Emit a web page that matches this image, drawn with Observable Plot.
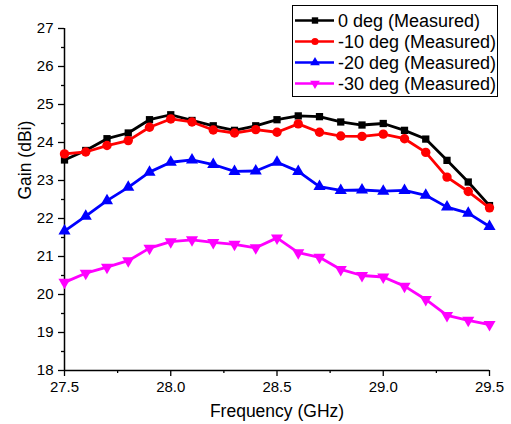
<!DOCTYPE html>
<html>
<head>
<meta charset="utf-8">
<script src="https://cdn.jsdelivr.net/npm/d3@7"></script>
<script src="https://cdn.jsdelivr.net/npm/@observablehq/plot@0.6"></script>
<style>
  html, body { margin: 0; padding: 0; background: #fff; }
  #wrap { position: relative; width: 511px; height: 424px; font-family: "Liberation Sans", Arial, sans-serif; }
  #legend { position: absolute; left: 292px; top: 5px; }
</style>
</head>
<body>
<div id="wrap"></div>
<script>
const freq = [27.5, 27.6, 27.7, 27.8, 27.9, 28.0, 28.1, 28.2, 28.3, 28.4, 28.5, 28.6, 28.7, 28.8, 28.9, 29.0, 29.1, 29.2, 29.3, 29.4, 29.5];
const gain0 = [23.54, 23.79, 24.10, 24.25, 24.60, 24.73, 24.58, 24.44, 24.32, 24.44, 24.60, 24.70, 24.68, 24.54, 24.46, 24.50, 24.32, 24.09, 23.53, 22.96, 22.34];
const gain10 = [23.70, 23.75, 23.92, 24.05, 24.40, 24.62, 24.54, 24.33, 24.25, 24.34, 24.27, 24.49, 24.27, 24.17, 24.16, 24.22, 24.10, 23.74, 23.09, 22.71, 22.28];
const gain20 = [21.67, 22.06, 22.47, 22.82, 23.22, 23.48, 23.54, 23.42, 23.24, 23.25, 23.48, 23.24, 22.84, 22.74, 22.75, 22.72, 22.74, 22.61, 22.30, 22.14, 21.79];
const gain30 = [20.32, 20.56, 20.72, 20.89, 21.22, 21.39, 21.44, 21.37, 21.32, 21.23, 21.49, 21.10, 20.98, 20.66, 20.50, 20.46, 20.22, 19.87, 19.45, 19.32, 19.21];

const seriesNames = ["0 deg (Measured)", "-10 deg (Measured)", "-20 deg (Measured)", "-30 deg (Measured)"];
const seriesColors = ["#000000", "#ff0000", "#0000ff", "#ff00ff"];
const seriesSymbols = ["square", "circle", "triangle", "triangle"];
const seriesRotate = [0, 0, 0, 180];
const seriesR = [4.1, 4.7, 4.5, 4.5];

const xMajorTicks = [27.5, 28.0, 28.5, 29.0, 29.5];
const xMinorTicks = [27.75, 28.25, 28.75, 29.25];
const yMajorTicks = [18, 19, 20, 21, 22, 23, 24, 25, 26, 27];
const yMinorTicks = [18.5, 19.5, 20.5, 21.5, 22.5, 23.5, 24.5, 25.5, 26.5];

const xTitle = "Frequency (GHz)";
const yTitle = "Gain (dBi)";

const allGains = [gain0, gain10, gain20, gain30];
const series = allGains.map((g, i) => freq.map((f, j) => ({f, g: g[j], s: seriesNames[i]})));

const marks = [
  Plot.axisX({ticks: xMajorTicks, tickSize: 6, tickPadding: 5, tickFormat: d => d.toFixed(1), label: null, fontSize: 15, strokeWidth: 1.3}),
  Plot.axisX({ticks: xMinorTicks, tickSize: 3, tickFormat: () => "", label: null, strokeWidth: 1.3}),
  Plot.axisY({ticks: yMajorTicks, tickSize: 6, tickPadding: 5, label: null, fontSize: 15, strokeWidth: 1.3}),
  Plot.axisY({ticks: yMinorTicks, tickSize: 3, tickFormat: () => "", label: null, strokeWidth: 1.3}),
  Plot.ruleX([27.5], {strokeWidth: 1.5}),
  Plot.ruleY([18], {strokeWidth: 1.5}),
  Plot.text([xTitle], {frameAnchor: "bottom", dy: 41, fontSize: 17.5, lineAnchor: "middle"}),
  Plot.text([yTitle], {frameAnchor: "left", dx: -39, rotate: -90, fontSize: 17.5, lineAnchor: "middle"})
];
series.forEach((d, i) => {
  marks.push(Plot.line(d, {x: "f", y: "g", stroke: seriesColors[i], strokeWidth: 2.8}));
  marks.push(Plot.dot(d, {x: "f", y: "g", symbol: seriesSymbols[i], fill: seriesColors[i], stroke: "none", r: seriesR[i], rotate: seriesRotate[i]}));
});

const chart = Plot.plot({
  width: 511, height: 424,
  marginLeft: 64, marginRight: 22, marginTop: 28, marginBottom: 54,
  x: {domain: [27.5, 29.5]},
  y: {domain: [18, 27]},
  style: {fontFamily: "'Liberation Sans', Arial, sans-serif", fontSize: "15px", color: "#000", background: "#fff"},
  marks
});
const wrap = document.getElementById("wrap");
wrap.appendChild(chart);

// Legend
const lw = 206, lh = 92;
const leg = d3.select(wrap).append("svg").attr("id", "legend").attr("width", lw).attr("height", lh)
  .style("font-family", "'Liberation Sans', Arial, sans-serif");
leg.append("rect").attr("x", 0.5).attr("y", 0.5).attr("width", lw - 1).attr("height", lh - 1)
  .attr("fill", "#fff").attr("stroke", "#000").attr("stroke-width", 1);
const symMap = {square: d3.symbolSquare, circle: d3.symbolCircle, triangle: d3.symbolTriangle};
seriesNames.forEach((name, i) => {
  const y = 15.5 + i * 21;
  leg.append("line").attr("x1", 3).attr("x2", 42).attr("y1", y).attr("y2", y)
    .attr("stroke", seriesColors[i]).attr("stroke-width", 2.6);
  leg.append("path").attr("d", d3.symbol(symMap[seriesSymbols[i]], Math.PI * 3.6 * 3.6)())
    .attr("transform", `translate(23,${y}) rotate(${seriesRotate[i]})`)
    .attr("fill", seriesColors[i]);
  leg.append("text").attr("x", 46).attr("y", y).attr("dy", "0.35em")
    .attr("font-size", 18).attr("fill", "#000").text(name);
});
</script>
</body>
</html>
